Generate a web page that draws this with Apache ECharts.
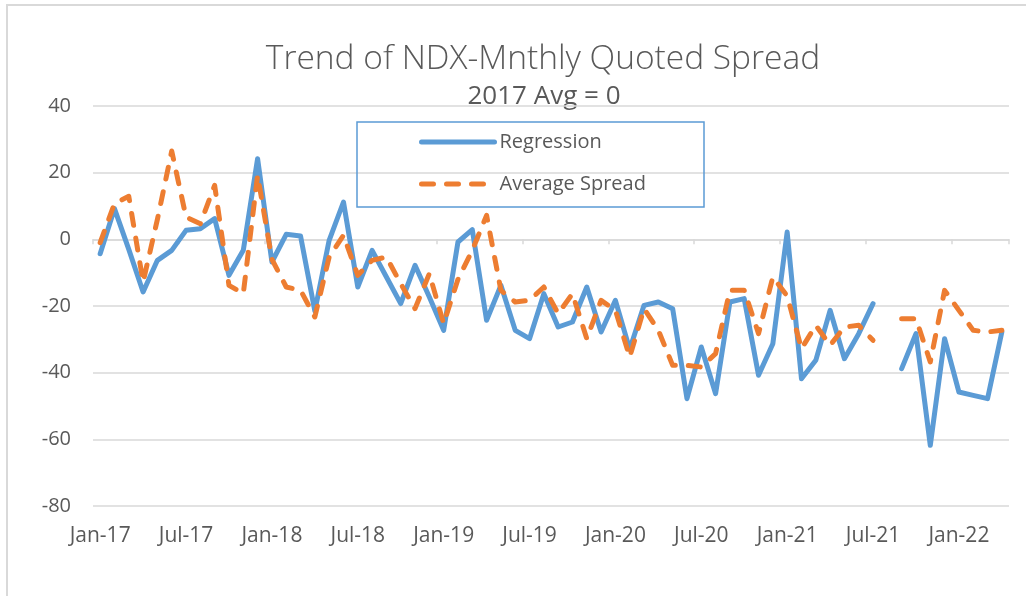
<!DOCTYPE html>
<html>
<head>
<meta charset="utf-8">
<script src="https://cdn.jsdelivr.net/npm/echarts@6/dist/echarts.min.js"></script>
<style>
  html, body { margin: 0; padding: 0; background: #fff; }
  #chart { width: 1026px; height: 596px; }
</style>
</head>
<body>
<div id="chart"></div>
<script>
// months Jan-17 .. Apr-22
var months = [
  'Jan-17','Feb-17','Mar-17','Apr-17','May-17','Jun-17','Jul-17','Aug-17','Sep-17','Oct-17','Nov-17','Dec-17',
  'Jan-18','Feb-18','Mar-18','Apr-18','May-18','Jun-18','Jul-18','Aug-18','Sep-18','Oct-18','Nov-18','Dec-18',
  'Jan-19','Feb-19','Mar-19','Apr-19','May-19','Jun-19','Jul-19','Aug-19','Sep-19','Oct-19','Nov-19','Dec-19',
  'Jan-20','Feb-20','Mar-20','Apr-20','May-20','Jun-20','Jul-20','Aug-20','Sep-20','Oct-20','Nov-20','Dec-20',
  'Jan-21','Feb-21','Mar-21','Apr-21','May-21','Jun-21','Jul-21','Aug-21','Sep-21','Oct-21','Nov-21','Dec-21',
  'Jan-22','Feb-22','Mar-22','Apr-22'
];

var regression = [
  -4.3, 9.2, -3, -15.8, -6.3, -3.3, 2.7, 3.2, 6.2, -10.8, -3.3, 24.2,
  -6.8, 1.5, 1.0, -21.5, -0.3, 11.2, -14.3, -3.3, -11.3, -19.3, -7.8, -17.3,
  -27.3, -0.8, 2.9, -24.3, -13.8, -27.3, -29.8, -16.3, -26.3, -24.8, -14.3, -27.8,
  -18.3, -33, -19.8, -18.8, -20.8, -47.8, -32.3, -46.3, -18.8, -17.8, -40.8, -31.3,
  2.2, -41.8, -36.3, -21.3, -35.8, -28.3, -19.3, null, -38.8, -28.3, -61.8, -29.8,
  -45.8, -46.8, -47.8, -27.8
];

var avgSpread = [
  -1, 10.7, 12.9, -12.8, 6, 26.5, 6.7, 4.7, 16.2, -13.8, -16.3, 19.2,
  -6, -14.3, -15.3, -23.3, -5.3, 1.2, -10.8, -6.3, -5.3, -13.3, -20.8, -10.3,
  -25.3, -12, -3.3, 7.2, -15.3, -18.8, -18.3, -14.3, -22.3, -16.3, -29.8, -18.3,
  -21.3, -35.3, -20.8, -27.3, -37.8, -37.8, -38.3, -34.3, -15.3, -15.3, -28.3, -11.3,
  -17, -32.8, -25.8, -31.8, -26.3, -25.8, -30.3, null, -23.8, -23.8, -36.8, -15.3,
  -21.3, -27.3, -27.8, -27.3
];

var yTicks = { min: -80, max: 40, step: 20 };
var seriesNames = ['Regression', 'Average Spread'];

var textColor = '#595959';
var gridColor = '#d9d9d9';
var fontName = '"Open Sans", sans-serif';

var myChart = echarts.init(document.getElementById('chart'));

var option = {
  animation: false,
  backgroundColor: '#fff',
  graphic: [
    // chart area border (only top and left edges fall inside the picture)
    { type: 'rect', shape: { x: 7, y: 5, width: 1100, height: 700 },
      style: { fill: 'none', stroke: gridColor, lineWidth: 2 }, z: -1 },
    { type: 'text', x: 543, y: 59,
      style: { text: 'Trend of NDX-Mnthly Quoted Spread', fill: textColor,
               font: '300 33.5px ' + fontName, align: 'center', verticalAlign: 'middle' } },
    { type: 'text', x: 544, y: 97,
      style: { text: '2017 Avg = 0', fill: textColor,
               font: '26px ' + fontName, align: 'center', verticalAlign: 'middle' } },
    // legend frame
    { type: 'rect', shape: { x: 357, y: 122, width: 347, height: 85 },
      style: { fill: 'none', stroke: '#5b9bd5', lineWidth: 1.5 }, z: 10 }
  ],
  legend: {
    orient: 'vertical',
    left: 414,
    top: 127,
    itemWidth: 73,
    itemHeight: 20,
    itemGap: 22,
    itemStyle: { opacity: 0 },
    lineStyle: { width: 5, cap: 'round' },
    textStyle: { color: textColor, fontSize: 20, fontFamily: fontName },
    data: seriesNames
  },
  grid: { left: 93, right: 17, top: 106, bottom: 90 },
  xAxis: [
    {
      // axis line sits on the zero line, with ticks every 6 months
      type: 'category',
      data: months,
      boundaryGap: true,
      axisLine: { onZero: true, lineStyle: { color: gridColor, width: 1.5 } },
      axisTick: { show: true, interval: 5, length: 5, lineStyle: { color: gridColor, width: 1.5 } },
      axisLabel: { show: false },
      splitLine: { show: false }
    },
    {
      // labels at the bottom
      type: 'category',
      data: months,
      position: 'bottom',
      boundaryGap: true,
      axisLine: { show: false, onZero: false },
      axisTick: { show: false },
      axisLabel: { interval: 5, margin: 20, color: textColor, fontSize: 21, fontFamily: fontName },
      splitLine: { show: false }
    }
  ],
  yAxis: {
    type: 'value',
    min: yTicks.min,
    max: yTicks.max,
    interval: yTicks.step,
    axisLine: { show: false },
    axisTick: { show: false },
    axisLabel: { margin: 22, color: textColor, fontSize: 20, fontFamily: fontName },
    splitLine: { lineStyle: { color: gridColor, width: 1.5 } }
  },
  series: [
    {
      name: seriesNames[0],
      type: 'line',
      xAxisIndex: 0,
      data: regression,
      symbol: 'none',
      connectNulls: false,
      color: '#5b9bd5',
      lineStyle: { width: 5, color: '#5b9bd5', cap: 'round', join: 'round' }
    },
    {
      name: seriesNames[1],
      type: 'line',
      xAxisIndex: 0,
      data: avgSpread,
      symbol: 'none',
      connectNulls: false,
      color: '#ed7d31',
      lineStyle: { width: 5, color: '#ed7d31', type: [12, 13], cap: 'round', join: 'round' }
    }
  ]
};

myChart.setOption(option);

window.addEventListener('resize', function () {
  myChart.resize();
});
</script>
</body>
</html>
